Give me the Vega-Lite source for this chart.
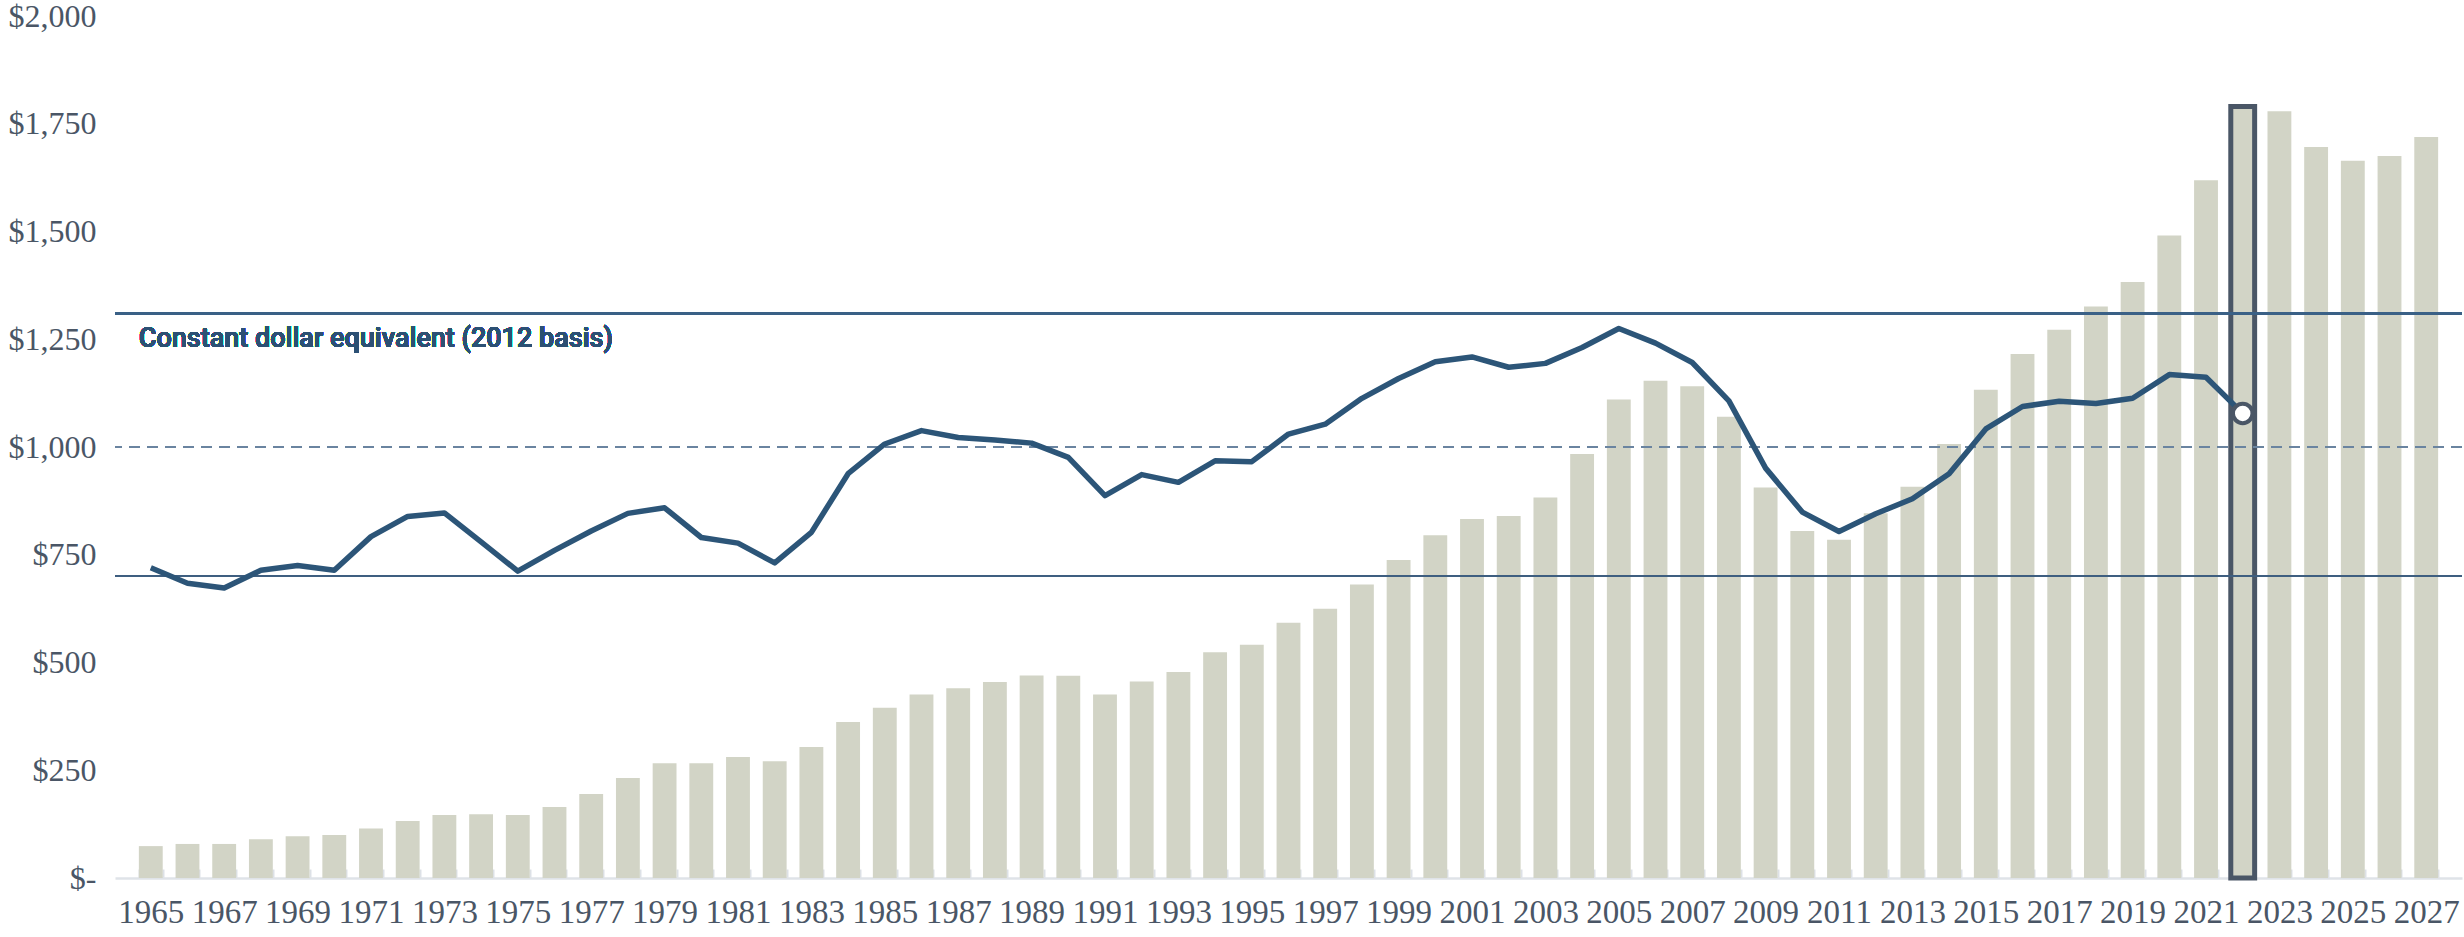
{
  "$schema": "https://vega.github.io/schema/vega-lite/v6.json",
  "width": 2347,
  "height": 862,
  "autosize": {"type": "none"},
  "padding": {"left": 115, "top": 16, "right": 2, "bottom": 59},
  "background": "#ffffff",
  "config": {
    "view": {"stroke": null},
    "axis": {"grid": false, "title": null}
  },
  "data": {
    "values": [
      {"year": 1965, "nominal": 74, "real": 720},
      {"year": 1966, "nominal": 79, "real": 684},
      {"year": 1967, "nominal": 79, "real": 673},
      {"year": 1968, "nominal": 90, "real": 714},
      {"year": 1969, "nominal": 97, "real": 725},
      {"year": 1970, "nominal": 100, "real": 714},
      {"year": 1971, "nominal": 115, "real": 792},
      {"year": 1972, "nominal": 132, "real": 839},
      {"year": 1973, "nominal": 146, "real": 847},
      {"year": 1974, "nominal": 148, "real": 780},
      {"year": 1975, "nominal": 146, "real": 712},
      {"year": 1976, "nominal": 165, "real": 760},
      {"year": 1977, "nominal": 195, "real": 805},
      {"year": 1978, "nominal": 232, "real": 846},
      {"year": 1979, "nominal": 266, "real": 859},
      {"year": 1980, "nominal": 266, "real": 790},
      {"year": 1981, "nominal": 281, "real": 777},
      {"year": 1982, "nominal": 271, "real": 731},
      {"year": 1983, "nominal": 304, "real": 802},
      {"year": 1984, "nominal": 362, "real": 938},
      {"year": 1985, "nominal": 395, "real": 1007},
      {"year": 1986, "nominal": 426, "real": 1038},
      {"year": 1987, "nominal": 440, "real": 1022},
      {"year": 1988, "nominal": 455, "real": 1016},
      {"year": 1989, "nominal": 470, "real": 1009},
      {"year": 1990, "nominal": 469, "real": 976},
      {"year": 1991, "nominal": 426, "real": 887},
      {"year": 1992, "nominal": 456, "real": 936},
      {"year": 1993, "nominal": 478, "real": 918},
      {"year": 1994, "nominal": 524, "real": 968},
      {"year": 1995, "nominal": 541, "real": 966},
      {"year": 1996, "nominal": 592, "real": 1030},
      {"year": 1997, "nominal": 625, "real": 1053},
      {"year": 1998, "nominal": 681, "real": 1113},
      {"year": 1999, "nominal": 738, "real": 1159},
      {"year": 2000, "nominal": 795, "real": 1198},
      {"year": 2001, "nominal": 833, "real": 1209},
      {"year": 2002, "nominal": 840, "real": 1185},
      {"year": 2003, "nominal": 883, "real": 1194},
      {"year": 2004, "nominal": 984, "real": 1231},
      {"year": 2005, "nominal": 1110, "real": 1275},
      {"year": 2006, "nominal": 1154, "real": 1241},
      {"year": 2007, "nominal": 1141, "real": 1196},
      {"year": 2008, "nominal": 1070, "real": 1107},
      {"year": 2009, "nominal": 906, "real": 951},
      {"year": 2010, "nominal": 805, "real": 849},
      {"year": 2011, "nominal": 785, "real": 804},
      {"year": 2012, "nominal": 846, "real": 845},
      {"year": 2013, "nominal": 908, "real": 880},
      {"year": 2014, "nominal": 1007, "real": 938},
      {"year": 2015, "nominal": 1133, "real": 1042},
      {"year": 2016, "nominal": 1216, "real": 1094},
      {"year": 2017, "nominal": 1272, "real": 1106},
      {"year": 2018, "nominal": 1326, "real": 1101},
      {"year": 2019, "nominal": 1383, "real": 1113},
      {"year": 2020, "nominal": 1491, "real": 1168},
      {"year": 2021, "nominal": 1619, "real": 1162},
      {"year": 2022, "nominal": 1790, "real": 1078},
      {"year": 2023, "nominal": 1779, "real": null},
      {"year": 2024, "nominal": 1696, "real": null},
      {"year": 2025, "nominal": 1664, "real": null},
      {"year": 2026, "nominal": 1675, "real": null},
      {"year": 2027, "nominal": 1719, "real": null}
    ]
  },
  "layer": [
    {
      "mark": {"type": "bar", "color": "#d2d4c6"},
      "encoding": {
        "x": {
          "field": "year",
          "type": "ordinal",
          "scale": {"paddingInner": 0.35, "paddingOuter": 0.65},
          "axis": {
            "title": null,
            "labelAngle": 0,
            "labelExpr": "datum.value % 2 == 1 ? datum.label : ''",
            "labelOverlap": false,
            "labelFont": "Liberation Serif",
            "labelFontSize": 33,
            "labelColor": "#4a5666",
            "labelPadding": 27,
            "tickBand": "extent",
            "tickSize": -9,
            "tickColor": "#dde1e6",
            "tickWidth": 2,
            "domainColor": "#dfe3e8",
            "domainWidth": 2.5
          }
        },
        "y": {
          "field": "nominal",
          "type": "quantitative",
          "scale": {"domain": [0, 2000], "nice": false},
          "axis": {
            "title": null,
            "values": [0, 250, 500, 750, 1000, 1250, 1500, 1750, 2000],
            "labelExpr": "datum.value == 0 ? '$-\u00a0\u00a0' : '$' + format(datum.value, ',')",
            "labelFont": "Liberation Serif",
            "labelFontSize": 32,
            "labelColor": "#4a5666",
            "labelPadding": 19,
            "ticks": false,
            "domain": false
          }
        }
      }
    },
    {
      "transform": [{"filter": "datum.year == 2022"}],
      "mark": {"type": "bar", "fill": "#d2d4c6", "stroke": "#4a5666", "strokeWidth": 5},
      "encoding": {
        "x": {"field": "year", "type": "ordinal"},
        "y": {"field": "nominal", "type": "quantitative", "title": null}
      }
    },
    {
      "mark": {"type": "rule", "color": "#3a6186", "strokeWidth": 2},
      "encoding": {"y": {"datum": 1310, "type": "quantitative"}}
    },
    {
      "mark": {"type": "rule", "color": "#6a84a0", "strokeWidth": 2, "strokeDash": [11, 7]},
      "encoding": {"y": {"datum": 1000, "type": "quantitative"}}
    },
    {
      "mark": {"type": "rule", "color": "#3f5f80", "strokeWidth": 1.6},
      "encoding": {"y": {"datum": 700, "type": "quantitative"}}
    },
    {
      "mark": {"type": "line", "color": "#2c5578", "strokeWidth": 5.5, "strokeJoin": "round"},
      "encoding": {
        "x": {"field": "year", "type": "ordinal"},
        "y": {"field": "real", "type": "quantitative", "title": null}
      }
    },
    {
      "transform": [{"filter": "datum.year == 2022"}],
      "mark": {"type": "point", "filled": true, "fill": "#ffffff", "stroke": "#4a5666", "strokeWidth": 4, "size": 380, "opacity": 1},
      "encoding": {
        "x": {"field": "year", "type": "ordinal"},
        "y": {"field": "real", "type": "quantitative", "title": null}
      }
    },
    {
      "mark": {"type": "text", "text": "Constant dollar equivalent (2012 basis)", "align": "left", "baseline": "middle", "font": "Roboto", "fontSize": 27, "fontWeight": 500, "color": "#2c5074"},
      "encoding": {
        "x": {"datum": 1965, "type": "ordinal", "bandPosition": 0},
        "y": {"datum": 1250, "type": "quantitative"}
      }
    }
  ]
}
